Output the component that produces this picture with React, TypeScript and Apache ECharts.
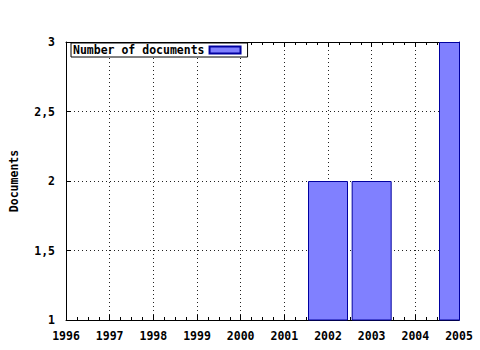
import React, { useEffect, useRef } from "react";
import * as echarts from "echarts";

const years = [2002, 2003, 2005];
const documents = [2, 2, 3];
const seriesName = "Number of documents";
const xMin = 1996;
const xMax = 2005;
const yMin = 1;
const yMax = 3;

const FONT = "DejaVu Sans Mono";

export default function App() {
  const ref = useRef<HTMLDivElement>(null);
  useEffect(() => {
    if (!ref.current) return;
    const chart = echarts.init(ref.current, null, { renderer: "svg" });
    const labelStyle = { fontFamily: FONT, fontWeight: "bold" as const, fontSize: 11.5, color: "#000" };
    const dotted = { show: true, lineStyle: { color: "#222", type: [1, 3] as any, width: 1 } };
    chart.setOption({
      animation: false,
      backgroundColor: "#fff",
      grid: { left: 64, right: 21, top: 42, bottom: 30 },
      graphic: [
        {
          type: "rect",
          left: 460,
          top: 0,
          shape: { width: 20, height: 324 },
          style: { fill: "#fff" },
          z: 100,
          silent: true,
        },
      ],
      legend: {
        data: [seriesName],
        left: 71,
        top: 43,
        align: "right",
        icon: "rect",
        itemWidth: 31,
        itemHeight: 7,
        borderColor: "#000",
        borderWidth: 1,
        borderRadius: 0,
        padding: [1, 6, 1, 2],
        backgroundColor: "#fff",
        textStyle: labelStyle,
      },
      xAxis: [
        {
          type: "value",
          position: "bottom",
          min: xMin,
          max: xMax,
          interval: 1,
          axisLine: { show: true, onZero: false, lineStyle: { color: "#000", width: 1 } },
          axisTick: { show: true, inside: true, length: 5, lineStyle: { color: "#000" } },
          minorTick: { show: true, splitNumber: 4, length: 3, lineStyle: { color: "#000" } },
          axisLabel: { ...labelStyle, margin: 10, formatter: (v: number) => String(v) },
          splitLine: dotted,
        },
        {
          type: "value",
          position: "top",
          min: xMin,
          max: xMax,
          interval: 1,
          axisLine: { show: true, onZero: false, lineStyle: { color: "#000", width: 1 } },
          axisTick: { show: true, inside: true, length: 5, lineStyle: { color: "#000" } },
          minorTick: { show: true, splitNumber: 4, length: 3, lineStyle: { color: "#000" } },
          axisLabel: { show: false },
          splitLine: { show: false },
        },
      ],
      yAxis: [
        {
          type: "value",
          position: "left",
          min: yMin,
          max: yMax,
          interval: 0.5,
          name: "Documents",
          nameLocation: "middle",
          nameRotate: 90,
          nameGap: 46,
          nameTextStyle: labelStyle,
          axisLine: { show: true, onZero: false, lineStyle: { color: "#000", width: 1 } },
          axisTick: { show: true, inside: true, length: 5, lineStyle: { color: "#000" } },
          axisLabel: { ...labelStyle, margin: 11, formatter: (v: number) => String(v).replace(".", ",") },
          splitLine: dotted,
        },
        {
          type: "value",
          position: "right",
          min: yMin,
          max: yMax,
          interval: 0.5,
          z: 150,
          axisLine: { show: true, onZero: false, lineStyle: { color: "#0000a0", width: 1 } },
          axisTick: { show: false },
          axisLabel: { show: false },
          splitLine: { show: false },
        },
      ],
      series: [
        {
          name: seriesName,
          type: "bar",
          xAxisIndex: 0,
          yAxisIndex: 0,
          barWidth: 40,
          clip: true,
          data: years.map((y, i) => [y, documents[i]]),
          itemStyle: { color: "#8080ff", borderColor: "#0000a0", borderWidth: 1 },
        },
      ],
    });
    return () => chart.dispose();
  }, []);
  return <div ref={ref} style={{ width: 480, height: 350, position: "absolute", left: 0, top: 0 }} />;
}
